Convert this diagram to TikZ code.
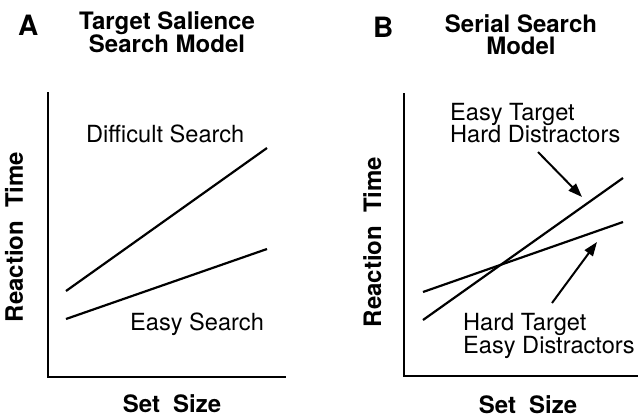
\documentclass[tikz,border=0pt]{standalone}
\usepackage{fontspec}
\setmainfont{TeX Gyre Heros}
\usetikzlibrary{arrows.meta}
\begin{document}
\begin{tikzpicture}[x=1pt,y=-1pt,
  lbl/.style={inner sep=0pt, font=\fontsize{23.6}{27}\selectfont},
  bold/.style={inner sep=0pt, font=\fontsize{24}{26}\selectfont\bfseries},
  panel/.style={inner sep=0pt, font=\fontsize{28}{30}\selectfont\bfseries},
  axis/.style={line width=1.7pt},
  curve/.style={line width=2.2pt},
  pointer/.style={line width=2pt, -{Triangle[length=14pt,width=10pt]}}]
\useasboundingbox (0,0) rectangle (641,418);

% ---------- Panel A ----------
\node[panel, anchor=base west] (panA) at (18,35) {A};
\node[bold, anchor=base] (titA1) at (167,29) {Target Salience};
\node[bold, anchor=base] (titA2) at (167,52) {Search Model};

\coordinate (A0) at (48,377);
\coordinate (Atop) at (48,92);
\coordinate (Aright) at (286,377);
\draw[axis] (Atop) -- (A0) -- (Aright);

\node[bold, rotate=90, anchor=base] (ylabA) at (23,237) {Reaction\hspace{0.55em}Time};
\node[bold, anchor=base] (xlabA) at (172,412) {Set\hspace{0.55em}Size};

\coordinate (dS) at (66,291);
\coordinate (dE) at (267,148);
\coordinate (eS) at (66,319);
\coordinate (eE) at (267,249);
\draw[curve] (dS) -- (dE);
\draw[curve] (eS) -- (eE);

\node[lbl, anchor=base west] (difficult) at (86,142) {Difficult Search};
\node[lbl, anchor=base west] (easy) at (130,330) {Easy Search};

% ---------- Panel B ----------
\node[panel, anchor=base west] (panB) at (373,37) {B};
\node[bold, anchor=base] (titB1) at (521,32) {Serial Search};
\node[bold, anchor=base] (titB2) at (521,54) {Model};

\coordinate (B0) at (404,376);
\coordinate (Btop) at (404,93);
\coordinate (Bright) at (638,376);
\draw[axis] (Btop) -- (B0) -- (Bright);

\node[bold, rotate=90, anchor=base] (ylabB) at (381,242) {Reaction\hspace{0.55em}Time};
\node[bold, anchor=base] (xlabB) at (528,413) {Set\hspace{0.55em}Size};

\coordinate (sS) at (423,320);
\coordinate (sE) at (623,178);
\coordinate (hS) at (423,292);
\coordinate (hE) at (623,222);
\draw[curve] (sS) -- (sE);
\draw[curve] (hS) -- (hE);

\node[lbl, anchor=base west] (et1) at (450,120) {Easy Target};
\node[lbl, anchor=base west] (et2) at (450,142) {Hard Distractors};
\node[lbl, anchor=base west] (ht1) at (463,330) {Hard Target};
\node[lbl, anchor=base west] (ht2) at (463,353) {Easy Distractors};

\coordinate (a1from) at (538,152);
\coordinate (a1to) at (582,197);
\coordinate (a2from) at (552,303);
\coordinate (a2to) at (597,242);
\draw[pointer] (a1from) -- (a1to);
\draw[pointer] (a2from) -- (a2to);
\end{tikzpicture}
\end{document}
